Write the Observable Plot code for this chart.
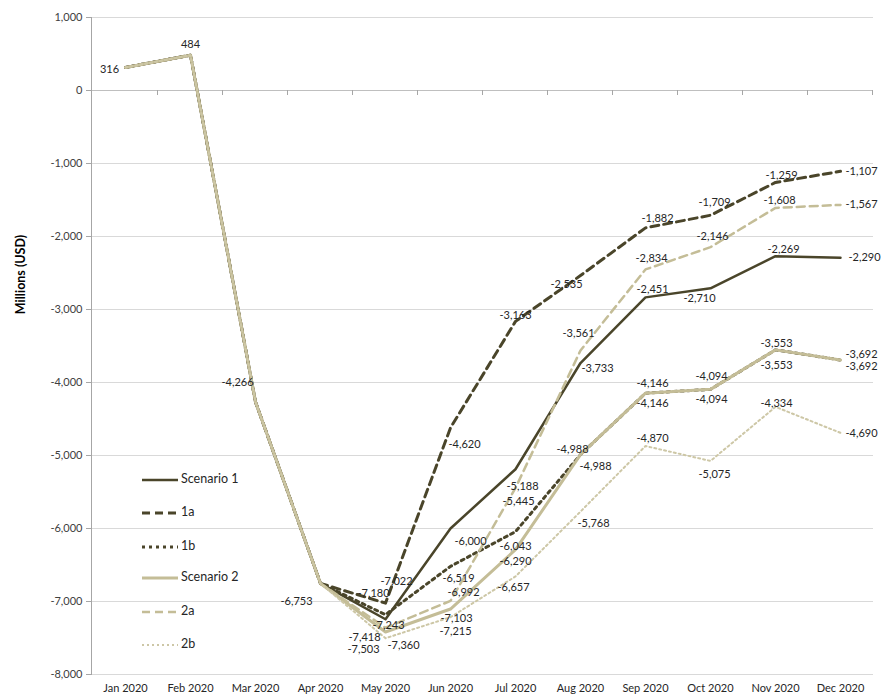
<!DOCTYPE html>
<html>
<head>
<meta charset="utf-8">
<script src="https://cdn.jsdelivr.net/npm/d3@7"></script>
<script src="https://cdn.jsdelivr.net/npm/@observablehq/plot@0.6"></script>
<style>
  body { margin: 0; background: #fff; font-family: Lato, "Open Sans", sans-serif; }
  #chart { width: 883px; height: 700px; }
</style>
</head>
<body>
<div id="chart"></div>
<script>
// ---- data ----
const months = ["Jan 2020","Feb 2020","Mar 2020","Apr 2020","May 2020","Jun 2020","Jul 2020","Aug 2020","Sep 2020","Oct 2020","Nov 2020","Dec 2020"];
const scenario1 = [316, 484, -4266, -6753, -7243, -6000, -5188, -3733, -2834, -2710, -2269, -2290];
const s1a       = [316, 484, -4266, -6753, -7022, -4620, -3163, -2535, -1882, -1709, -1259, -1107];
const s1b       = [316, 484, -4266, -6753, -7180, -6519, -6043, -4988, -4146, -4094, -3553, -3692];
const scenario2 = [316, 484, -4266, -6753, -7418, -7103, -6290, -4988, -4146, -4094, -3553, -3692];
const s2a       = [316, 484, -4266, -6753, -7360, -6992, -5445, -3561, -2451, -2146, -1608, -1567];
const s2b       = [316, 484, -4266, -6753, -7503, -7215, -6657, -5768, -4870, -5075, -4334, -4690];
const yTicks = [1000, 0, -1000, -2000, -3000, -4000, -5000, -6000, -7000, -8000];
const seriesNames = ["Scenario 1", "1a", "1b", "Scenario 2", "2a", "2b"];

// ---- styles (not data) ----
const DARK = "#4a452a", LIGHT = "#c4bd97", LIGHT2 = "#cdc7a6";
const styles = {
  "Scenario 1": {values: scenario1, stroke: DARK,  width: 2.5, dash: null},
  "1a":         {values: s1a,       stroke: DARK,  width: 3,   dash: "8,5"},
  "1b":         {values: s1b,       stroke: DARK,  width: 3,   dash: "3,4"},
  "Scenario 2": {values: scenario2, stroke: LIGHT, width: 3,   dash: null},
  "2a":         {values: s2a,       stroke: LIGHT, width: 2.5, dash: "8,5"},
  "2b":         {values: s2b,       stroke: LIGHT2,width: 2,   dash: "2,3"}
};
// label offsets [dx, dy] relative to each point (null = no label)
const N4 = [null, null, null, null];
const labelOffsets = {
  "Scenario 1": [[-16,2],[0,-11],[-18,-19],[-24,18],[3,6],[20,13],[7,17],[17,5],[6,-39],[-11,10],[8,-7],[24,0]],
  "1a":         [...N4,[11,-22],[14,17],[0,-6],[-14,9],[12,-9],[4,-13],[6,-7],[21,0]],
  "1b":         [...N4,[-12,-21],[8,12],[0,15],[-8,-5],[7,-10],[1,-13],[1,-6],[21,-6]],
  "Scenario 2": [...N4,[-21,5],[6,9],[0,12],[15,12],[7,10],[1,10],[1,16],[21,6]],
  "2a":         [...N4,[18,18],[13,-8],[3,13],[-2,-17],[7,20],[2,-11],[4,-7],[21,0]],
  "2b":         [...N4,[-22,11],[5,14],[-2,11],[13,12],[7,-8],[4,13],[1,-3],[21,1]]
};

const rows = seriesNames.flatMap(s => months.map((m, i) => ({series: s, month: m, value: styles[s].values[i], i})));
const fmt = d3.formatLocale({decimal: ".", thousands: ",", grouping: [3], currency: ["$", ""], minus: "-"}).format(",");

const lineMarks = seriesNames.map(s => Plot.line(rows.filter(r => r.series === s), {
  x: "month", y: "value", stroke: styles[s].stroke, strokeWidth: styles[s].width,
  strokeDasharray: styles[s].dash, strokeLinejoin: "round"
}));

const labelMarks = rows.filter(r => labelOffsets[r.series][r.i]).map(r => {
  const [dx, dy] = labelOffsets[r.series][r.i];
  return Plot.text([r], {x: "month", y: "value", text: d => fmt(d.value), dx, dy,
    fill: "#262626", fontSize: 11, textAnchor: "middle"});
});

const plot = Plot.plot({
  width: 883, height: 700,
  marginLeft: 91, marginRight: 10, marginTop: 17, marginBottom: 26,
  style: {fontFamily: "Lato, 'Open Sans', sans-serif", fontSize: "11px", color: "#404040", background: "#fff"},
  x: {type: "point", domain: months, padding: 0.5, label: null},
  y: {domain: [-8000, 1000], label: null},
  marks: [
    Plot.gridY(yTicks, {stroke: "#d9d9d9", strokeOpacity: 1}),
    Plot.ruleY([0], {stroke: "#bfbfbf"}),
    Plot.axisY(yTicks, {tickFormat: fmt, tickSize: 5, tickPadding: 4, stroke: "#a6a6a6", fill: "#404040", fontSize: 11, label: null}),
    Plot.frame({anchor: "left", stroke: "#a6a6a6"}),
    Plot.axisX({tickSize: 0, tickPadding: 10, fill: "#262626", fontSize: 11, label: null}),
    ...lineMarks,
    ...labelMarks
  ]
});

const svg = d3.select(plot);
const xs = plot.scale("x"), ys = plot.scale("y");
const x0 = xs.apply(months[0]), step = xs.apply(months[1]) - x0, yZero = ys.apply(0);
// category boundary ticks on the horizontal axis (crossing at 0)
svg.append("g").selectAll("line").data(d3.range(1, months.length + 1)).join("line")
  .attr("x1", k => x0 - step / 2 + k * step).attr("x2", k => x0 - step / 2 + k * step)
  .attr("y1", yZero).attr("y2", yZero + 5).attr("stroke", "#a6a6a6");

// y-axis title
svg.append("text")
  .attr("transform", `translate(22,${(ys.apply(-2000) + ys.apply(-3000)) / 2 + 2}) rotate(-90)`)
  .attr("text-anchor", "middle").attr("dominant-baseline", "middle")
  .attr("font-weight", "bold").attr("font-size", 12.5).attr("fill", "#000")
  .text("Millions (USD)");

// legend
const leg = svg.append("g").attr("transform", "translate(142,480)");
const rowGap = [0, 33, 67, 98, 132, 165];
seriesNames.forEach((s, i) => {
  const g = leg.append("g").attr("transform", `translate(0,${rowGap[i]})`);
  g.append("line").attr("x1", 0).attr("x2", 36).attr("y1", 0).attr("y2", 0)
    .attr("stroke", styles[s].stroke).attr("stroke-width", styles[s].width)
    .attr("stroke-dasharray", styles[s].dash);
  g.append("text").attr("x", 39).attr("y", 0).attr("dominant-baseline", "middle")
    .attr("text-anchor", "start")
    .attr("font-size", 12.5).attr("fill", "#262626").text(s);
});

document.getElementById("chart").appendChild(plot);
</script>
</body>
</html>
